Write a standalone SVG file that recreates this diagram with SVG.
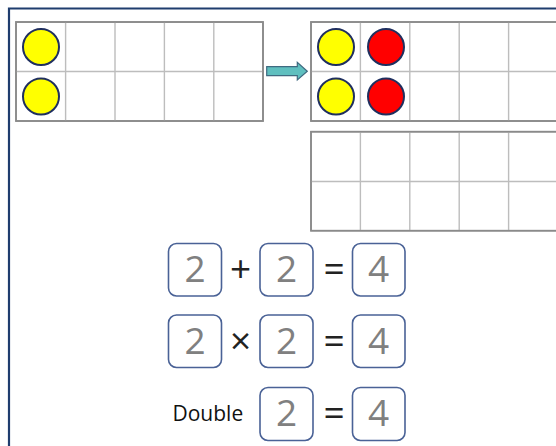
<svg xmlns="http://www.w3.org/2000/svg" width="556" height="446" viewBox="0 0 556 446">
<style>
.outer{fill:#fff;stroke:#8a8a8a;stroke-width:1.6}
.inner{stroke:#bdbdbd;stroke-width:1.4;fill:none}
.y{fill:#ffff00;stroke:#1f2f5f;stroke-width:2}
.r{fill:#ff0000;stroke:#1f2f5f;stroke-width:2}
.box{fill:#fff;stroke:#4a6296;stroke-width:1.6}
.dig{font-family:"Open Sans","Noto Sans",sans-serif;font-size:37px;fill:#808080;text-anchor:middle}
.op{font-family:"Open Sans","Noto Sans",sans-serif;font-size:37px;fill:#222;text-anchor:middle}
.lbl{font-family:"Open Sans","Noto Sans",sans-serif;font-size:21px;fill:#111}
</style>
<rect width="556" height="446" fill="#fff"/>
<path d="M9 446 V8.5 H556" fill="none" stroke="#1f3d6e" stroke-width="2.2"/>
<g id="grid1">
<rect class="outer" x="16" y="22" width="247" height="99"/>
<path class="inner" d="M65.6 22V121M115 22V121M164.4 22V121M213.8 22V121M16 71.5H263"/>
<rect x="16" y="22" width="247" height="99" fill="none" stroke="#8a8a8a" stroke-width="1.6"/>
<circle class="y" cx="41" cy="47" r="18"/>
<circle class="y" cx="41" cy="96.5" r="18"/>
</g>
<g id="arrow">
<path d="M266.7 66.7H297.3V62.3L307.3 71.2L297.3 80V75.7H266.7Z" fill="#5fbfbf" stroke="#3f6a80" stroke-width="1.2"/>
</g>
<g id="grid2">
<rect class="outer" x="311" y="22" width="260" height="99"/>
<path class="inner" d="M360.4 22V121M409.8 22V121M459.2 22V121M508.6 22V121M311 71.5H556"/>
<rect x="311" y="22" width="260" height="99" fill="none" stroke="#8a8a8a" stroke-width="1.6"/>
<circle class="y" cx="336" cy="47" r="18"/>
<circle class="y" cx="336" cy="96.5" r="18"/>
<circle class="r" cx="386" cy="47" r="18"/>
<circle class="r" cx="386" cy="96.5" r="18"/>
</g>
<g id="grid3">
<rect class="outer" x="311" y="131.7" width="260" height="99"/>
<path class="inner" d="M360.4 131.7V230.7M409.8 131.7V230.7M459.2 131.7V230.7M508.6 131.7V230.7M311 181.5H556"/>
<rect x="311" y="131.7" width="260" height="99" fill="none" stroke="#8a8a8a" stroke-width="1.6"/>
</g>
<g id="eq1">
<rect class="box" x="168.5" y="243.5" width="53" height="52.5" rx="8"/>
<rect class="box" x="260" y="243.5" width="53" height="52.5" rx="8"/>
<rect class="box" x="352.5" y="243.5" width="52.5" height="52.5" rx="8"/>
<text class="dig" x="195" y="282">2</text>
<text class="dig" x="286.5" y="282">2</text>
<text class="dig" x="378.7" y="282">4</text>
<text class="op" x="240.7" y="282">+</text>
<text class="op" x="334" y="282">=</text>
</g>
<g id="eq2">
<rect class="box" x="168.5" y="315" width="53" height="52.5" rx="8"/>
<rect class="box" x="260" y="315" width="53" height="52.5" rx="8"/>
<rect class="box" x="352.5" y="315" width="52.5" height="52.5" rx="8"/>
<text class="dig" x="195" y="353.5">2</text>
<text class="dig" x="286.5" y="353.5">2</text>
<text class="dig" x="378.7" y="353.5">4</text>
<text class="op" x="240.7" y="353.5">×</text>
<text class="op" x="334" y="353.5">=</text>
</g>
<g id="eq3">
<text class="lbl" x="172.5" y="420.5">Double</text>
<rect class="box" x="260" y="387.5" width="53" height="53" rx="8"/>
<rect class="box" x="352.5" y="387.5" width="52.5" height="53" rx="8"/>
<text class="dig" x="286.5" y="426">2</text>
<text class="dig" x="378.7" y="426">4</text>
<text class="op" x="334" y="426">=</text>
</g>
</svg>
